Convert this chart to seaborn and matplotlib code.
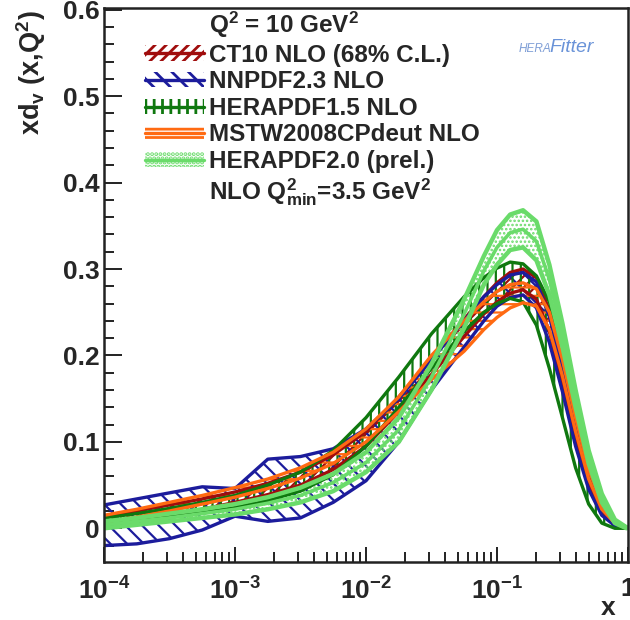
import numpy as np
import pandas as pd
import matplotlib
matplotlib.use("Agg")
import matplotlib.pyplot as plt
import seaborn as sns
from matplotlib.patches import Patch
from matplotlib.lines import Line2D
from matplotlib.ticker import FixedLocator, NullFormatter, LogLocator

# ---------------- data ----------------
x = [1.0e-4, 1.78e-4, 3.16e-4, 5.62e-4, 1.0e-3, 1.78e-3, 3.16e-3, 5.62e-3,
     1.0e-2, 1.78e-2, 3.16e-2, 5.62e-2, 0.0794, 0.100, 0.126, 0.158,
     0.200, 0.251, 0.316, 0.398, 0.501, 0.631, 0.794, 0.977]

ct10_lo = [0.006, 0.010, 0.016, 0.022, 0.030, 0.039, 0.050, 0.068, 0.095, 0.135, 0.178, 0.222,
           0.248, 0.262, 0.272, 0.276, 0.265, 0.228, 0.168, 0.102, 0.050, 0.018, 0.004, 0.000]
ct10_hi = [0.014, 0.020, 0.027, 0.034, 0.042, 0.052, 0.065, 0.085, 0.112, 0.152, 0.197, 0.242,
           0.268, 0.284, 0.296, 0.300, 0.290, 0.252, 0.190, 0.120, 0.062, 0.025, 0.007, 0.001]

nnpdf_lo = [-0.020, -0.018, -0.012, -0.002, 0.014, 0.008, 0.012, 0.030, 0.055, 0.100, 0.160, 0.210,
            0.240, 0.257, 0.267, 0.270, 0.255, 0.215, 0.158, 0.095, 0.045, 0.015, 0.003, 0.000]
nnpdf_hi = [0.027, 0.034, 0.041, 0.048, 0.046, 0.080, 0.083, 0.092, 0.115, 0.150, 0.195, 0.240,
            0.268, 0.282, 0.293, 0.296, 0.285, 0.245, 0.185, 0.115, 0.058, 0.022, 0.006, 0.001]

hera15_lo = [0.004, 0.008, 0.013, 0.018, 0.024, 0.032, 0.043, 0.062, 0.095, 0.140, 0.185, 0.228,
             0.250, 0.260, 0.266, 0.262, 0.235, 0.185, 0.128, 0.070, 0.028, 0.006, 0.000, 0.000]
hera15_hi = [0.012, 0.017, 0.023, 0.030, 0.038, 0.050, 0.065, 0.090, 0.128, 0.175, 0.225, 0.268,
             0.290, 0.301, 0.308, 0.306, 0.292, 0.262, 0.210, 0.150, 0.085, 0.033, 0.008, 0.001]

mstw_lo = [0.007, 0.013, 0.020, 0.028, 0.036, 0.046, 0.058, 0.075, 0.100, 0.135, 0.172, 0.205,
           0.230, 0.244, 0.255, 0.261, 0.257, 0.230, 0.176, 0.112, 0.057, 0.022, 0.006, 0.000]
mstw_hi = [0.015, 0.022, 0.030, 0.038, 0.047, 0.057, 0.070, 0.088, 0.115, 0.152, 0.200, 0.240,
           0.262, 0.274, 0.282, 0.284, 0.277, 0.250, 0.195, 0.128, 0.068, 0.029, 0.008, 0.001]

hera20_lo = [0.000, 0.004, 0.008, 0.012, 0.016, 0.022, 0.030, 0.043, 0.065, 0.100, 0.160, 0.232,
             0.282, 0.305, 0.322, 0.325, 0.310, 0.270, 0.210, 0.140, 0.075, 0.030, 0.006, 0.000]
hera20_mid = [0.004, 0.008, 0.012, 0.017, 0.022, 0.029, 0.038, 0.053, 0.076, 0.114, 0.175, 0.248,
              0.298, 0.325, 0.342, 0.346, 0.332, 0.288, 0.224, 0.150, 0.082, 0.035, 0.008, 0.0005]
hera20_hi = [0.008, 0.012, 0.017, 0.022, 0.028, 0.036, 0.047, 0.063, 0.088, 0.128, 0.190, 0.265,
             0.315, 0.345, 0.363, 0.368, 0.355, 0.305, 0.237, 0.160, 0.090, 0.040, 0.010, 0.001]

labels = ["CT10 NLO (68% C.L.)", "NNPDF2.3 NLO", "HERAPDF1.5 NLO",
          "MSTW2008CPdeut NLO", "HERAPDF2.0 (prel.)"]
colors = ["#A00D0D", "#1C1C9C", "#0F780F", "#FF6A12", "#6ADB6A"]
hatches = ["///", "\\\\", "||", "--", "...."]

x_ticks = [1e-4, 1e-3, 1e-2, 1e-1, 1]
x_ticklabels = ["$10^{-4}$", "$10^{-3}$", "$10^{-2}$", "$10^{-1}$", "$1$"]
y_ticks = [0, 0.1, 0.2, 0.3, 0.4, 0.5, 0.6]
y_ticklabels = ["0", "0.1", "0.2", "0.3", "0.4", "0.5", "0.6"]

bands = [(ct10_lo, ct10_hi), (nnpdf_lo, nnpdf_hi), (hera15_lo, hera15_hi),
         (mstw_lo, mstw_hi), (hera20_lo, hera20_hi)]

# ---------------- style ----------------
sns.set_theme(style="ticks")
plt.rcParams["font.family"] = ["Liberation Sans", "DejaVu Sans"]
plt.rcParams["font.weight"] = "bold"
plt.rcParams["mathtext.fontset"] = "custom"
plt.rcParams["mathtext.rm"] = "Liberation Sans:bold"
plt.rcParams["mathtext.it"] = "Liberation Sans:bold"
plt.rcParams["mathtext.bf"] = "Liberation Sans:bold"
plt.rcParams["hatch.linewidth"] = 2.0

fig = plt.figure(figsize=(6.3, 6.2), dpi=100)
ax = fig.add_axes([104 / 630, 1 - 562 / 620, 524 / 630, 554 / 620])
ax.set_facecolor("white")

for (lo, hi), col, hat, lab in zip(bands, colors, hatches, labels):
    fb = ax.fill_between(x, lo, hi, facecolor="none", edgecolor=col, hatch=hat, linewidth=0)
    if hasattr(fb, "set_hatch_linewidth"):
        fb.set_hatch_linewidth(1.6 if hat != "...." else 1.2)
    lw = 2.4 if lab != "HERAPDF2.0 (prel.)" else 3.2
    df = pd.DataFrame({"x": x + x, "y": lo + hi, "edge": ["lo"] * len(x) + ["hi"] * len(x)})
    sns.lineplot(data=df, x="x", y="y", units="edge", estimator=None, color=col,
                 linewidth=lw, ax=ax, legend=False, solid_joinstyle="round")
    if lab == "HERAPDF2.0 (prel.)":
        sns.lineplot(x=x, y=hera20_mid, color=col, linewidth=2.6, ax=ax, legend=False)

ax.set_xscale("log")
ax.set_xlim(1e-4, 1)
ax.set_ylim(-0.039, 0.602)
ax.set_xlabel("")
ax.set_ylabel("")

ax.xaxis.set_major_locator(FixedLocator(x_ticks))
ax.set_xticklabels(x_ticklabels)
ax.xaxis.set_minor_locator(LogLocator(base=10, subs=np.arange(2, 10), numticks=20))
ax.xaxis.set_minor_formatter(NullFormatter())
ax.set_yticks(y_ticks)
ax.set_yticklabels(y_ticklabels)
ax.set_yticks(np.arange(-0.02, 0.601, 0.02), minor=True)

for s in ax.spines.values():
    s.set_linewidth(1.8)
    s.set_color("#222222")
ax.tick_params(axis="both", which="both", direction="in", top=False, right=False,
               color="#222222", width=1.4)
ax.tick_params(axis="y", which="major", length=13, labelsize=19, pad=3)
ax.tick_params(axis="y", which="minor", length=7)
ax.tick_params(axis="x", which="major", length=11, labelsize=19, pad=11)
ax.tick_params(axis="x", which="minor", length=7)
for t in ax.get_xticklabels() + ax.get_yticklabels():
    t.set_fontweight("bold")

# axis titles
fig.text(31 / 630, 1 - 10 / 620, r"xd$_{\mathrm{v}}$ (x,Q$^{2}$)", rotation=90,
         ha="center", va="top", fontsize=19.5, fontweight="bold")
fig.text(608 / 630, 1 - 608 / 620, "x", ha="center", va="center", fontsize=19, fontweight="bold")

# legend: hatched box with a line through its middle
handles = [Line2D([], [], lw=0)]
for col, hat in zip(colors, hatches):
    handles.append((Patch(facecolor="none", edgecolor=col, hatch=hat, linewidth=0),
                    Line2D([], [], color=col, lw=2.4)))
handles.append(Line2D([], [], lw=0))
leg_labels = ["Q$^{2}$ = 10 GeV$^{2}$"] + labels + [r"NLO Q$^{2}_{\mathrm{min}}$=3.5 GeV$^{2}$"]
leg = ax.legend(handles, leg_labels, loc="upper left", bbox_to_anchor=(0.078, 0.997),
                frameon=False, fontsize=17.5, borderpad=0, borderaxespad=0,
                handlelength=2.45, handleheight=0.6, handletextpad=0.2, labelspacing=0.15)
for t in leg.get_texts():
    t.set_fontweight("bold")

# logo
fig.text(519 / 630, 1 - 49 / 620, "HERA", color="#7f9ed6", fontsize=8.5, style="italic",
         fontweight="normal", ha="left", va="center")
fig.text(549 / 630, 1 - 47 / 620, "Fitter", color="#6a93d8", fontsize=14, style="italic",
         fontweight="normal", ha="left", va="center")

fig.savefig("out.png", dpi=100)
